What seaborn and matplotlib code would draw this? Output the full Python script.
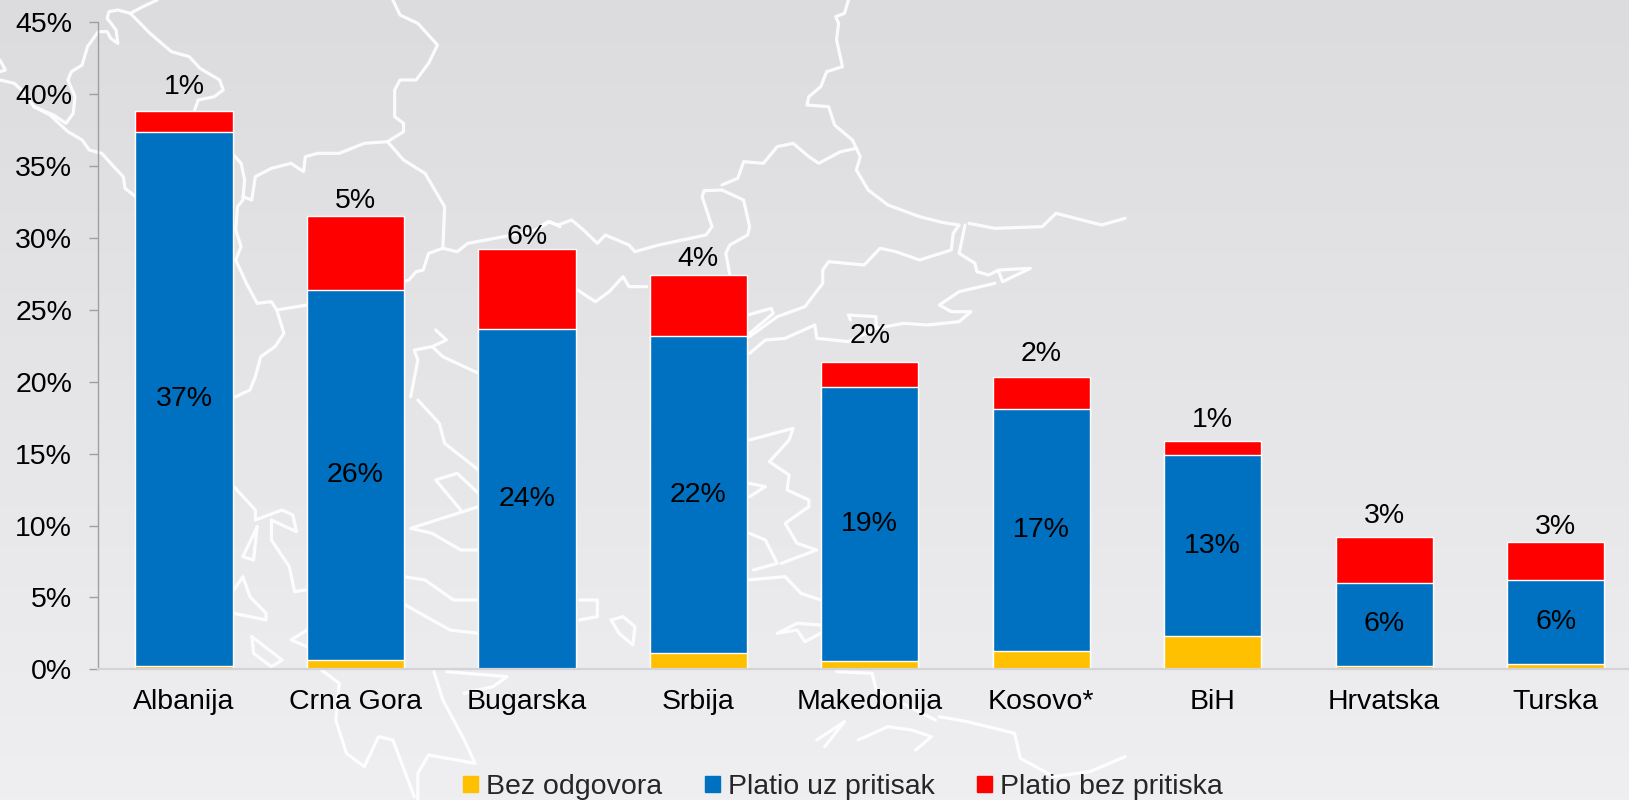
import numpy as np
import matplotlib
matplotlib.use("Agg")
import matplotlib.pyplot as plt
from matplotlib.patches import Patch
import seaborn as sns

countries = ["Albanija", "Crna Gora", "Bugarska", "Srbija", "Makedonija", "Kosovo*", "BiH", "Hrvatska", "Turska"]
no_answer = [0.2, 0.65, 0.05, 1.1, 0.6, 1.3, 2.3, 0.25, 0.35]
paid_pressure = [37.15, 25.75, 23.65, 22.05, 19.0, 16.8, 12.6, 5.75, 5.85]
paid_no_pressure = [1.5, 5.15, 5.5, 4.25, 1.8, 2.25, 1.0, 3.2, 2.65]
pressure_labels = ["37%", "26%", "24%", "22%", "19%", "17%", "13%", "6%", "6%"]
no_pressure_labels = ["1%", "5%", "6%", "4%", "2%", "2%", "1%", "3%", "3%"]
y_ticks = [0, 5, 10, 15, 20, 25, 30, 35, 40, 45]
legend_names = ["Bez odgovora", "Platio uz pritisak", "Platio bez pritiska"]

YELLOW = "#ffc000"
BLUE = "#0070c0"
RED = "#ff0000"

# the top labels were placed by hand in the original, gap in px above the bar
top_label_gap = [24, 14.5, 12, 16, 26, 23, 21, 21, 15.5]

Z4 = (0, 2.8, 0)
Z5 = (540, 2.529, 0)
Z6 = (0, 2.8, 400)
Z7 = (540, 2.529, 400)
map_strokes = [
    (Z4, [(440,0),(400,20),(365,40),(330,30),(305,35),(300,55),(325,90),(330,130),(310,115),(300,95),(275,95),(245,140),(230,195),(200,215),(190,240),(210,290),(205,340),(185,370),(150,345),(95,320),(140,345),(190,395),(230,420),(250,450),(285,460),(310,490),(345,530),(350,565),(380,590)]),
    (Z4, [(0,180),(15,210),(0,215)]),
    (Z4, [(0,240),(40,250),(60,270),(95,320)]),
    (Z4, [(365,40),(420,100),(480,155),(530,170),(560,205),(615,240),(625,270),(600,290),(555,300),(545,330)]),
    (Z4, [(650,460),(675,490),(685,540),(680,600),(665,620),(660,690),(675,740),(660,780),(690,850),(720,910),(760,905),(775,930),(795,1000),(770,1040),(730,1070),(715,1130),(700,1170),(650,1195)]),
    (Z4, [(680,590),(705,600),(715,530),(760,505),(815,490),(850,515),(855,470),(890,460),(950,460),(1020,430),(1085,425),(1130,395),(1130,370),(1105,350),(1105,270),(1120,240),(1165,240),(1200,190),(1225,135),(1170,70),(1120,45),(1100,0)]),
    (Z4, [(1085,425),(1130,480),(1190,520),(1245,620),(1240,745),(1200,760),(1185,810),(1165,815),(1145,840),(1130,845)]),
    (Z4, [(1240,745),(1280,755),(1310,730),(1360,720),(1460,700),(1500,690),(1540,665),(1568,680)]),
    (Z4, [(775,930),(860,915)]),
    (Z4, [(1220,990),(1250,1020),(1210,1040),(1160,1050),(1170,1080),(1150,1190)]),
    (Z4, [(1210,1040),(1240,1070),(1340,1120)]),
    (Z5, [(0,680),(20,665),(45,675),(80,660),(110,690),(145,730),(165,705),(225,735),(240,755),(300,735),(420,705),(435,680),(410,590),(415,572),(460,570),(515,600),(530,680),(525,705),(480,735),(470,760),(480,825)]),
    (Z5, [(780,0),(770,40),(748,50),(755,70),(750,120),(765,200),(725,215),(710,260),(680,290),(675,315),(730,320),(745,375),(790,420),(810,470),(800,510),(830,570),(880,615),(960,650),(1020,668),(1060,675),(1045,700),(1040,750),(960,780),(900,755),(860,745),(820,795),(730,785),(715,810),(715,850),(670,920),(600,950),(530,1010)]),
    (Z5, [(800,445),(760,455),(705,490),(680,470),(640,430),(600,440),(565,490),(515,485),(500,535),(460,555)]),
    (Z5, [(1075,675),(1060,760),(1100,790),(1105,815),(1135,825),(1160,810),(1240,805),(1170,845),(1160,815)]),
    (Z5, [(1085,670),(1150,685),(1270,680),(1305,640),(1420,675),(1480,655)]),
    (Z5, [(1150,850),(1060,875),(1010,915),(1040,935),(1090,935),(1060,965),(980,975),(920,970),(850,985),(850,950),(780,945),(785,960)]),
    (Z5, [(850,985),(780,1025),(700,1015),(695,975),(620,1015),(570,1020),(530,1060)]),
    (Z5, [(525,945),(585,925),(590,940),(530,1000)]),
    (Z5, [(95,870),(140,905),(175,875),(210,830),(225,860),(270,860)]),
    (Z7, [(530,120),(640,85),(630,120),(580,185),(630,225),(625,270),(680,300),(680,320),(620,370),(650,430),(700,450),(610,490)]),
    (Z7, [(525,540),(620,530),(660,580),(710,600)]),
    (Z7, [(530,400),(570,420),(600,490),(540,510)]),
    (Z7, [(530,250),(570,260),(530,290)]),
    (Z7, [(100,600),(145,600),(145,650),(100,660)]),
    (Z7, [(180,660),(210,650),(240,680),(235,735),(200,700),(180,660)]),
    (Z7, [(710,675),(650,670),(600,700),(650,690),(670,725),(710,700)]),
    (Z7, [(750,815),(840,820),(850,870),(1000,960)]),
    (Z7, [(700,1020),(770,965),(720,1040)]),
    (Z7, [(805,1020),(880,980),(940,990),(990,1010),(950,1050)]),
    (Z7, [(1010,950),(1080,965),(1150,985),(1200,1000),(1215,1075),(1300,1130),(1390,1115),(1480,1070)]),
    (Z6, [(1170,0),(1230,70),(1245,130),(1340,210)]),
    (Z6, [(655,260),(715,330),(715,360),(790,330),(820,345),(830,395),(760,360),(760,420),(810,500),(825,575),(855,570)]),
    (Z6, [(720,380),(680,470),(710,480),(720,380)]),
    (Z6, [(655,570),(680,530),(700,590),(745,640),(745,660),(655,640)]),
    (Z6, [(705,710),(710,760),(760,800),(790,780),(705,710)]),
    (Z6, [(860,690),(815,720),(860,740)]),
    (Z6, [(1130,530),(1190,540),(1270,600),(1340,600)]),
    (Z6, [(1135,615),(1260,690),(1340,700)]),
    (Z6, [(1340,280),(1280,220),(1220,240),(1290,330)]),
    (Z6, [(1340,320),(1150,385),(1210,400),(1290,450),(1340,450)]),
    (Z6, [(900,810),(950,850),(940,960),(970,1060),(1020,1100),(1060,1010),(1100,1020),(1160,1190)]),
    (Z6, [(1215,815),(1240,900),(1300,1020),(1330,1090),(1200,1065),(1170,1120),(1170,1200)]),
    (Z6, [(1250,815),(1420,830),(1380,860),(1300,880)]),
]

sns.set_theme(style="white")
plt.rcParams["font.family"] = ["Liberation Sans", "DejaVu Sans"]
FONT_SIZE = 20.5

fig = plt.figure(figsize=(16.29, 8), dpi=100)

# gradient + map sit in their own axes in pixel coords
bg = fig.add_axes([0, 0, 1, 1], zorder=0)
bg.imshow(np.linspace(0, 1, 256).reshape(-1, 1),
          extent=(0, 1629, 800, 0), aspect="auto",
          cmap=matplotlib.colors.LinearSegmentedColormap.from_list("bg", ["#dcdcdf", "#efeff1"]))
for (x0, sx, y0), stroke in map_strokes:
    xs = [x0 + p[0] / sx for p in stroke]
    ys = [y0 + p[1] / 3 for p in stroke]
    bg.plot(xs, ys, color="white", lw=2.3, alpha=0.9, solid_joinstyle="round", solid_capstyle="round")
bg.set_xlim(0, 1629)
bg.set_ylim(800, 0)
bg.axis("off")

# plot area runs past the right edge of the slide
ax = fig.add_axes([98.3 / 1629, 1 - 669.3 / 800, 1543 / 1629, 647 / 800], zorder=1)
ax.patch.set_alpha(0)

mid = np.array(no_answer) + np.array(paid_pressure)
top = mid + np.array(paid_no_pressure)

# stacked by drawing the tallest layer first
for heights, color in [(top, RED), (mid, BLUE), (no_answer, YELLOW)]:
    sns.barplot(x=countries, y=heights, color=color, saturation=1, width=0.567, ax=ax)

for i in range(len(countries)):
    ax.text(i, (no_answer[i] + mid[i]) / 2, pressure_labels[i], ha="center", va="center",
            fontsize=FONT_SIZE, color="black")
    ax.annotate(no_pressure_labels[i], (i, top[i]), xytext=(0, top_label_gap[i] * 0.72),
                textcoords="offset points", ha="center", va="center",
                fontsize=FONT_SIZE, color="black")

ax.set_xlim(-0.5, 8.5)
ax.set_ylim(0, 45)
ax.set_yticks(y_ticks)
ax.set_yticklabels([f"{t}%" for t in y_ticks], fontsize=FONT_SIZE, color="black")
ax.tick_params(axis="y", length=6.8, width=1, color="#a0a0a0", pad=12, left=True)
ax.tick_params(axis="x", length=0, pad=14, labelsize=FONT_SIZE, labelcolor="black")
ax.set_xlabel("")
ax.set_ylabel("")

sns.despine(ax=ax, top=True, right=True)
ax.spines["left"].set_color("#a0a0a0")
ax.spines["left"].set_linewidth(1)
ax.spines["bottom"].set_color("#d4d4d8")
ax.spines["bottom"].set_linewidth(1.6)

handles = [Patch(color=c) for c in (YELLOW, BLUE, RED)]
fig.legend(handles, legend_names, loc="center", bbox_to_anchor=(843 / 1629, 1 - 787 / 800),
           ncol=3, frameon=False, fontsize=FONT_SIZE, handlelength=0.53, handleheight=0.53,
           handletextpad=0.27, columnspacing=1.5, borderpad=0, borderaxespad=0)

fig.savefig("out.png", dpi=100)
